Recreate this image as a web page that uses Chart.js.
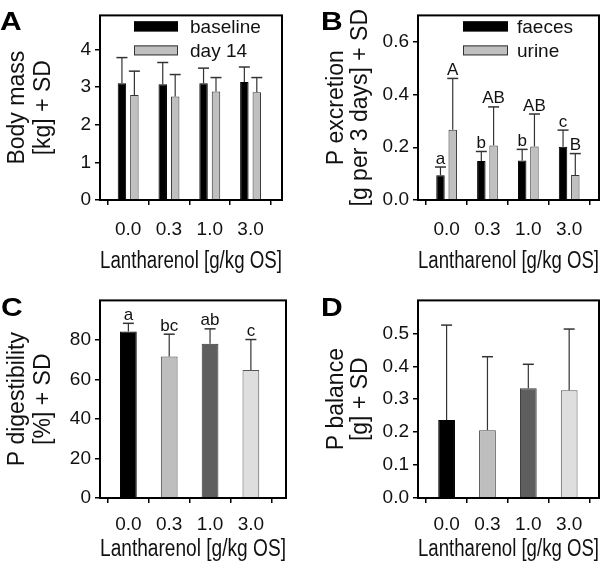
<!DOCTYPE html>
<html>
<head>
<meta charset="utf-8">
<script src="https://cdn.jsdelivr.net/npm/chart.js@4"></script>
<style>
  html, body { margin: 0; padding: 0; background: #fff; }
  #wrap { position: relative; width: 600px; height: 570px; overflow: hidden; }
  .panel { position: absolute; width: 300px; height: 285px; }
  .panel canvas { display: block; }
  .letter { position: absolute; font-family: 'Liberation Sans', Arial, sans-serif; font-weight: bold;
            font-size: 25px; line-height: 25px; transform-origin: left top; transform: scaleX(1.2); color: #000; }
</style>
</head>
<body>
<div id="wrap">
  <div class="panel" style="left:0;top:0"><canvas id="cA" width="300" height="285"></canvas></div>
  <div class="panel" style="left:300px;top:0"><canvas id="cB" width="300" height="285"></canvas></div>
  <div class="panel" style="left:0;top:285px"><canvas id="cC" width="300" height="285"></canvas></div>
  <div class="panel" style="left:300px;top:285px"><canvas id="cD" width="300" height="285"></canvas></div>
  <div class="letter" style="left:0px;top:9px">A</div>
  <div class="letter" style="left:321px;top:9px">B</div>
  <div class="letter" style="left:1px;top:295px">C</div>
  <div class="letter" style="left:321px;top:295px">D</div>
</div>
<script>
// ---------------- data ----------------
const doses = ['0.0', '0.3', '1.0', '3.0'];
const xTitle = 'Lantharenol [g/kg OS]';

const massBaseline   = [3.10, 3.07, 3.10, 3.13];
const massBaselineSD = [0.68, 0.58, 0.40, 0.40];
const massDay14      = [2.79, 2.75, 2.88, 2.86];
const massDay14SD    = [0.63, 0.58, 0.37, 0.39];
const massTicks      = [0, 1, 2, 3, 4];

const pFaeces        = [0.094, 0.148, 0.150, 0.202];
const pFaecesSD      = [0.031, 0.036, 0.042, 0.063];
const faecesLetters  = ['a', 'b', 'b', 'c'];
const pUrine         = [0.266, 0.207, 0.203, 0.095];
const pUrineSD       = [0.195, 0.146, 0.123, 0.081];
const urineLetters   = ['A', 'AB', 'AB', 'B'];
const excretionTicks = [0, 0.2, 0.4, 0.6];

const pDigest        = [84.2, 71.6, 78.0, 64.8];
const pDigestSD      = [4.2, 11.3, 7.6, 15.4];
const digestLetters  = ['a', 'bc', 'ab', 'c'];
const digestTicks    = [0, 20, 40, 60, 80];

const pBalance       = [0.237, 0.206, 0.333, 0.327];
const pBalanceSD     = [0.288, 0.223, 0.073, 0.186];
const balanceTicks   = [0, 0.1, 0.2, 0.3, 0.4, 0.5];

// ---------------- styling ----------------
const FONT = "'Liberation Sans Narrow','Arial Narrow','Liberation Sans',Arial,sans-serif";
const TXT = '#111';
const doseColors = ['#000000', '#bebebe', '#5e5e5e', '#dedede'];
const doseBorders = ['#000000', '#444444', '#333333', '#555555'];

Chart.defaults.font.family = FONT;
Chart.defaults.color = TXT;

const pts = arr => arr.map((v, i) => ({ x: i, y: v }));

// ---------------- plugins ----------------
const errorBarPlugin = {
  id: 'errorBars',
  afterDatasetsDraw(chart, args, o) {
    const { ctx } = chart;
    const yScale = chart.scales.y;
    chart.data.datasets.forEach((ds, di) => {
      if (!ds.sd) return;
      const meta = chart.getDatasetMeta(di);
      meta.data.forEach((bar, i) => {
        const v = ds.data[i].y;
        const yTop = yScale.getPixelForValue(v + ds.sd[i]);
        const x = bar.x;
        ctx.save();
        ctx.strokeStyle = o.color;
        ctx.lineWidth = o.lineWidth;
        ctx.beginPath(); ctx.moveTo(x, bar.y); ctx.lineTo(x, yTop); ctx.stroke();
        ctx.lineWidth = o.capLineWidth;
        ctx.beginPath(); ctx.moveTo(x - o.capWidth / 2, yTop); ctx.lineTo(x + o.capWidth / 2, yTop); ctx.stroke();
        if (ds.sigLetters) {
          ctx.fillStyle = TXT;
          ctx.font = o.letterSize + 'px ' + FONT;
          ctx.textAlign = 'center';
          ctx.textBaseline = 'alphabetic';
          ctx.fillText(ds.sigLetters[i], x, yTop - o.letterGap);
        }
        ctx.restore();
      });
    });
  }
};

const framePlugin = {
  id: 'frame',
  afterDraw(chart) {
    const { ctx, chartArea: a } = chart;
    ctx.save();
    ctx.strokeStyle = '#000';
    ctx.lineWidth = 2;
    ctx.strokeRect(a.left, a.top, a.right - a.left, a.bottom - a.top);
    ctx.restore();
  }
};

const boxLegendPlugin = {
  id: 'boxLegend',
  afterDraw(chart, args, o) {
    if (!o || !o.show) return;
    const { ctx, chartArea: a } = chart;
    ctx.save();
    chart.data.datasets.forEach((ds, i) => {
      const bx = a.left + o.dx, by = a.top + o.dy + i * o.step;
      ctx.fillStyle = ds.backgroundColor;
      ctx.fillRect(bx, by, o.w, o.h);
      ctx.strokeStyle = ds.borderColor;
      ctx.lineWidth = 1;
      ctx.strokeRect(bx + 0.5, by + 0.5, o.w - 1, o.h - 1);
      ctx.fillStyle = TXT;
      ctx.font = o.size + 'px ' + FONT;
      ctx.textAlign = 'left';
      ctx.textBaseline = 'middle';
      ctx.fillText(ds.label, bx + o.w + o.gap, by + o.h / 2 + 1);
    });
    ctx.restore();
  }
};

// ---------------- factory ----------------
function makeChart(id, c) {
  return new Chart(document.getElementById(id), {
    type: 'bar',
    data: { datasets: c.datasets },
    plugins: [errorBarPlugin, framePlugin, boxLegendPlugin],
    options: {
      responsive: false,
      animation: false,
      events: [],
      layout: { padding: c.padding },
      datasets: { bar: { categoryPercentage: c.catPct, barPercentage: c.barPct, borderWidth: 1 } },
      plugins: {
        legend: { display: false },
        tooltip: { enabled: false },
        errorBars: { color: '#333', lineWidth: 1.2, capLineWidth: 1.5, capWidth: 11, letterSize: 17, letterGap: 3.5 },
        boxLegend: c.legend || { show: false }
      },
      scales: {
        x: {
          type: 'linear', min: c.xMin, max: c.xMax, offset: false,
          afterBuildTicks: ax => { ax.ticks = doses.map((_, i) => ({ value: i })); },
          afterFit: ax => { ax.height = c.xH; },
          grid: { drawOnChartArea: false, drawTicks: true, tickLength: 5, color: '#000', lineWidth: 1.5 },
          border: { display: false },
          ticks: { padding: c.xTickPad, maxRotation: 0, autoSkip: false, font: { size: 19 },
                   callback: v => doses[Math.round(v)] },
          title: { display: true, text: xTitle, font: { size: 23, lineHeight: '26px' },
                   padding: { top: 0, bottom: c.xTitlePad } }
        },
        y: {
          type: 'linear', min: 0, max: c.yMax,
          afterBuildTicks: ax => { ax.ticks = c.yTicks.map(v => ({ value: v })); },
          afterFit: ax => { ax.width = c.yW; },
          grid: { drawOnChartArea: false, drawTicks: true, tickLength: 5, color: '#000', lineWidth: 1.5 },
          border: { display: false },
          ticks: { padding: 4, font: { size: 19 }, callback: v => v.toFixed(c.yDec) },
          title: { display: true, text: c.yTitle, font: { size: 23, lineHeight: c.yTitleLH },
                   padding: { top: c.yTitlePad, bottom: 0 } }
        }
      }
    }
  });
}

// Panel A
makeChart('cA', {
  datasets: [
    { label: 'baseline', data: pts(massBaseline), sd: massBaselineSD, backgroundColor: '#000000', borderColor: '#000000' },
    { label: 'day 14', data: pts(massDay14), sd: massDay14SD, backgroundColor: '#c0c0c0', borderColor: '#333333' }
  ],
  padding: { left: 0, right: 18, top: 2, bottom: 0 },
  catPct: 0.61, barPct: 0.68,
  xMin: -0.69, xMax: 3.77, xH: 85, xTickPad: 13, xTitlePad: 10,
  yMax: 4.9, yTicks: massTicks, yDec: 0, yW: 100,
  yTitle: ['Body mass', '[kg] + SD'], yTitleLH: '26px', yTitlePad: 5,
  legend: { show: true, dx: 34, dy: 6, step: 24, w: 44, h: 10, gap: 12, size: 19 }
});

// Panel B
makeChart('cB', {
  datasets: [
    { label: 'faeces', data: pts(pFaeces), sd: pFaecesSD, sigLetters: faecesLetters, backgroundColor: '#000000', borderColor: '#000000' },
    { label: 'urine', data: pts(pUrine), sd: pUrineSD, sigLetters: urineLetters, backgroundColor: '#c0c0c0', borderColor: '#333333' }
  ],
  padding: { left: 0, right: 1, top: 2, bottom: 0 },
  catPct: 0.6, barPct: 0.69,
  xMin: -0.70, xMax: 3.73, xH: 85, xTickPad: 13, xTitlePad: 10,
  yMax: 0.7, yTicks: excretionTicks, yDec: 1, yW: 118,
  yTitle: ['P excretion', '[g per 3 days] + SD'], yTitleLH: '23.5px', yTitlePad: 25,
  legend: { show: true, dx: 45, dy: 6, step: 24, w: 45, h: 10, gap: 9, size: 19 }
});

// Panel C
makeChart('cC', {
  datasets: [
    { label: 'P digestibility', data: pts(pDigest), sd: pDigestSD, sigLetters: digestLetters,
      backgroundColor: doseColors, borderColor: doseBorders }
  ],
  padding: { left: 0, right: 14, top: 14, bottom: 0 },
  catPct: 0.41, barPct: 1.0,
  xMin: -0.695, xMax: 3.86, xH: 72, xTickPad: 10, xTitlePad: 7,
  yMax: 100, yTicks: digestTicks, yDec: 0, yW: 100,
  yTitle: ['P digestibility', '[%] + SD'], yTitleLH: '26px', yTitlePad: 5
});

// Panel D
makeChart('cD', {
  datasets: [
    { label: 'P balance', data: pts(pBalance), sd: pBalanceSD,
      backgroundColor: doseColors, borderColor: doseBorders }
  ],
  padding: { left: 0, right: 1, top: 14, bottom: 0 },
  catPct: 0.41, barPct: 1.0,
  xMin: -0.70, xMax: 3.73, xH: 72, xTickPad: 10, xTitlePad: 7,
  yMax: 0.6, yTicks: balanceTicks, yDec: 1, yW: 118,
  yTitle: ['P balance', '[g] + SD'], yTitleLH: '23.5px', yTitlePad: 25
});
</script>
</body>
</html>
